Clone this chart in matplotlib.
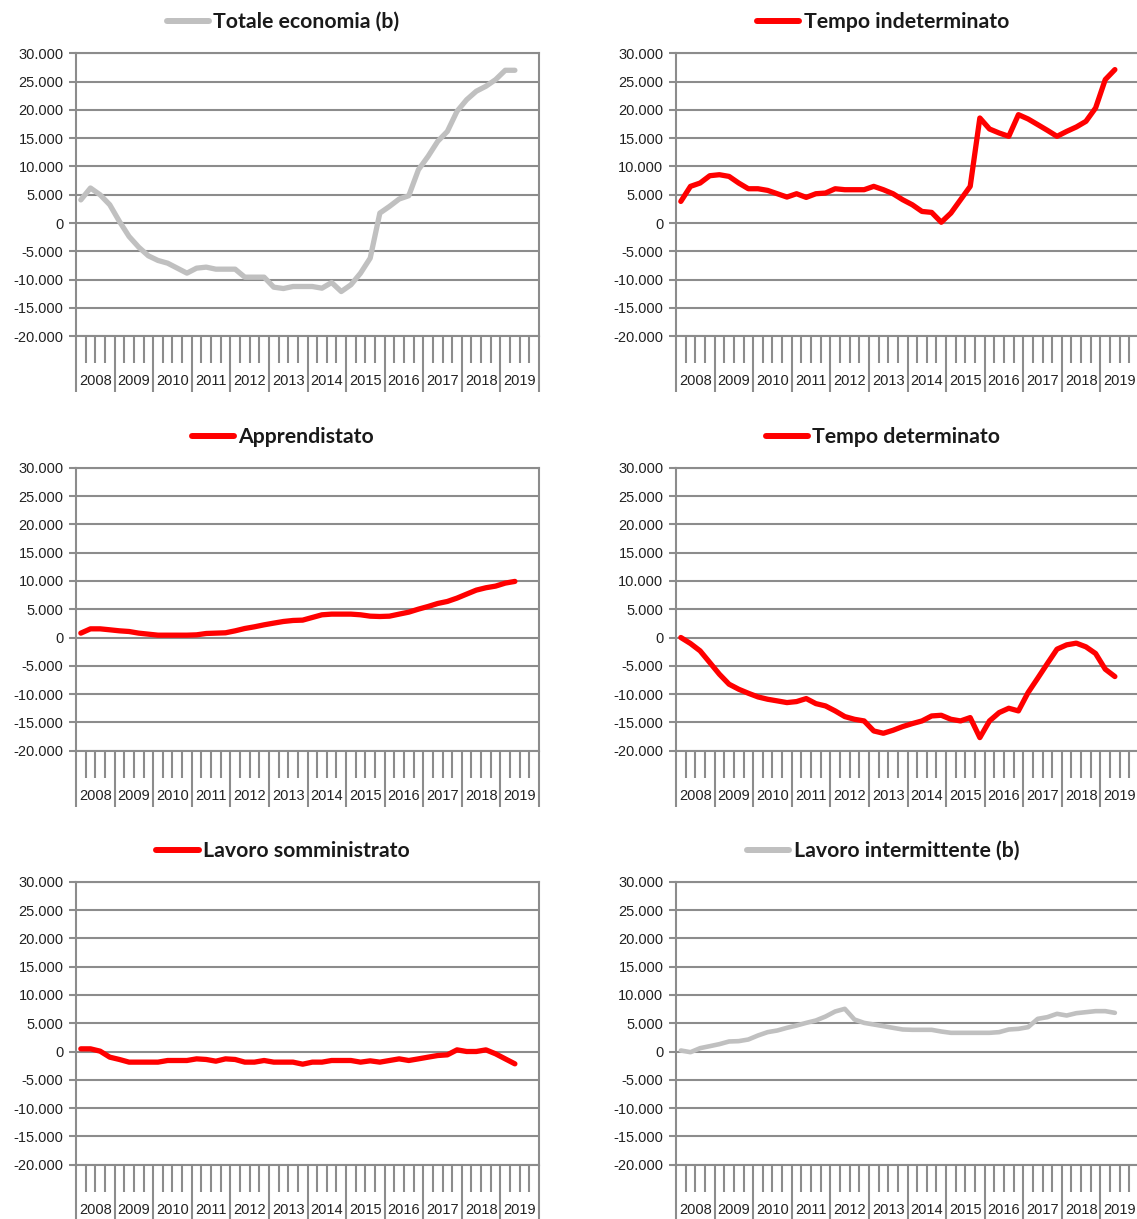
import numpy as np
import matplotlib
matplotlib.use("Agg")
import matplotlib.pyplot as plt
from matplotlib.ticker import FuncFormatter, FixedLocator

# quarterly data, 2008 Q1 - 2019 Q2
years = [str(y) for y in range(2008, 2020)]

totale = [4100, 6200, 5000, 3240, 300, -2360, -4250, -5780, -6600, -7080, -7960, -8840,
          -7960, -7780, -8140, -8140, -8140, -9550, -9550, -9550, -11320, -11560, -11200, -11200,
          -11200, -11500, -10500, -12090, -10900, -8840, -6190, 1770, 2950, 4250, 4840, 9430,
          11790, 14450, 16200, 19750, 21800, 23300, 24180, 25350, 27000, 27000]

indeterminato = [3830, 6490, 7080, 8370, 8550, 8250, 7080, 6070, 6070, 5780, 5190, 4600,
                 5190, 4540, 5190, 5310, 6070, 5900, 5900, 5900, 6490, 5900, 5190, 4130,
                 3240, 2060, 1890, 150, 1770, 4130, 6490, 18570, 16630, 15920, 15330, 19160,
                 18400, 17400, 16390, 15330, 16200, 16980, 17980, 20340, 25350, 27120]

apprendistato = [770, 1530, 1530, 1360, 1180, 1060, 770, 590, 410, 410, 410, 410,
                 470, 710, 770, 830, 1180, 1590, 1890, 2240, 2540, 2830, 3010, 3070,
                 3540, 4010, 4130, 4130, 4130, 4010, 3770, 3710, 3770, 4130, 4480, 5010,
                 5480, 6010, 6370, 6960, 7670, 8370, 8790, 9080, 9610, 9910]

determinato = [0, -1060, -2360, -4420, -6490, -8250, -9140, -9850, -10500, -10910, -11200, -11500,
               -11320, -10790, -11680, -12090, -12970, -13970, -14450, -14740, -16510, -16920, -16390, -15740,
               -15210, -14740, -13860, -13740, -14450, -14740, -14150, -17690, -14740, -13270, -12500, -12970,
               -9730, -7190, -4600, -2060, -1300, -1000, -1650, -2830, -5600, -6900]

somministrato = [470, 470, 60, -1000, -1410, -1880, -1880, -1880, -1880, -1590, -1590, -1590,
                 -1300, -1410, -1710, -1300, -1410, -1880, -1880, -1590, -1880, -1880, -1880, -2240,
                 -1880, -1880, -1590, -1590, -1590, -1880, -1650, -1880, -1590, -1300, -1590, -1300,
                 -1000, -710, -590, 290, 0, 0, 290, -410, -1300, -2180]

intermittente = [180, -120, 590, 940, 1300, 1770, 1830, 2120, 2830, 3420, 3710, 4180,
                 4590, 5060, 5480, 6180, 7070, 7540, 5650, 5060, 4770, 4480, 4180, 3890,
                 3830, 3830, 3830, 3530, 3300, 3300, 3300, 3300, 3300, 3420, 3890, 4000,
                 4300, 5770, 6070, 6660, 6360, 6770, 6950, 7130, 7130, 6830]

GRAY = "#c0c0c0"
RED = "#ff0000"
GRID = "#8c8c8c"

panels = [
    ("Totale economia (b)", totale, GRAY),
    ("Tempo indeterminato", indeterminato, RED),
    ("Apprendistato", apprendistato, RED),
    ("Tempo determinato", determinato, RED),
    ("Lavoro somministrato", somministrato, RED),
    ("Lavoro intermittente (b)", intermittente, GRAY),
]

W, H = 1137, 1219
fig = plt.figure(figsize=(W / 100, H / 100), dpi=100)

col_x = [76, 676]
ax_w = 463
row_top = [53.3, 467.7, 881.7]
ax_h = 283
title_cx = [283, 883]
title_cy = [22, 437, 851]

ncat = len(years) * 4
xs = np.arange(len(totale)) + 0.5
fmt = FuncFormatter(lambda v, p: f"{int(v):,}".replace(",", "."))

for k, (name, vals, color) in enumerate(panels):
    r, c = divmod(k, 2)
    left = col_x[c]
    top = row_top[r]
    ax = fig.add_axes([left / W, 1 - (top + ax_h) / H, ax_w / W, ax_h / H])

    lw = 3.3 if name.startswith("Lavoro intermittente") else 3.8
    line, = ax.plot(xs, vals, color=color, lw=lw, solid_joinstyle="round",
                    solid_capstyle="round", zorder=3)

    ax.set_xlim(0, ncat)
    ax.set_ylim(-20000, 30000)
    ax.set_yticks(np.arange(-20000, 30001, 5000))
    ax.yaxis.set_major_formatter(fmt)
    ax.yaxis.grid(True, color=GRID, lw=1.5)
    ax.set_axisbelow(True)

    ax.xaxis.set_major_locator(FixedLocator(np.arange(0, ncat + 1, 4)))
    ax.xaxis.set_minor_locator(FixedLocator([i for i in range(ncat + 1) if i % 4]))
    ax.tick_params(axis="x", which="major", length=40, width=1.5, color=GRID,
                   labelbottom=False, direction="out")
    ax.tick_params(axis="x", which="minor", length=19.5, width=1.5, color=GRID,
                   direction="out")
    ax.tick_params(axis="y", length=5, width=1.5, color=GRID, pad=4,
                   labelsize=10.5, labelcolor="#222222")
    for lab in ax.get_yticklabels():
        lab.set_family("Liberation Sans")

    for s in ax.spines.values():
        s.set_color(GRID)
        s.set_linewidth(1.5)

    for j, y in enumerate(years):
        ax.annotate(y, xy=(4 * j + 2, 0), xycoords=("data", "axes fraction"),
                    xytext=(0, -32.5), textcoords="offset points",
                    ha="center", va="center", fontsize=10.5, color="#222222",
                    family="Liberation Sans", annotation_clip=False)

    leg = fig.legend([line], [name], loc="center",
                     bbox_to_anchor=(title_cx[c] / W, 1 - title_cy[r] / H),
                     frameon=False, handlelength=2.0, handletextpad=0.2,
                     prop=dict(family="Lato", weight="bold", size=15.3))
    leg.get_lines()[0].set_linewidth(4.3)
    for t in leg.get_texts():
        t.set_color("#1a1a1a")

fig.savefig("out.png", dpi=100)
